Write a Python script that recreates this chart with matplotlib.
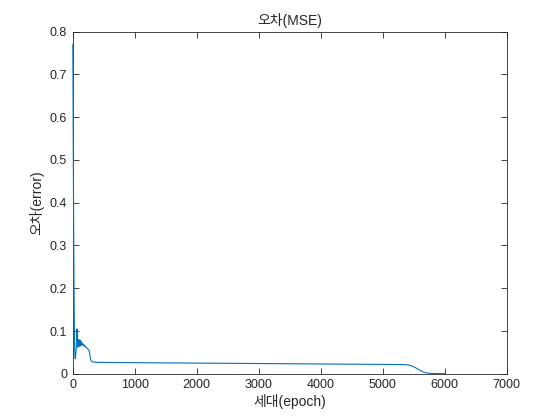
import matplotlib
matplotlib.use("Agg")
import matplotlib.pyplot as plt

# Data (epoch, MSE)
epochs = [0, 3, 6, 10, 15, 20, 25, 30, 35, 40, 45, 50, 55, 60, 65, 68, 72, 76, 80,
          85, 90, 95, 100, 105, 110, 115, 120, 125, 130, 135, 140, 145, 150, 160,
          170, 180, 190, 200, 210, 220, 230, 240, 250, 260, 270, 280, 290, 300,
          320, 350, 400, 600, 1000, 1500, 2000, 2500, 3000, 3500, 4000, 4500,
          5000, 5300, 5400, 5450, 5500, 5550, 5600, 5650, 5700, 5750, 5800,
          5850, 5900, 6000]
errors = [0.77, 0.70, 0.58, 0.45, 0.32, 0.20, 0.11, 0.06, 0.038, 0.035, 0.04,
          0.05, 0.06, 0.075, 0.09, 0.105, 0.07, 0.082, 0.062, 0.078, 0.066,
          0.08, 0.064, 0.076, 0.068, 0.079, 0.065, 0.074, 0.068, 0.075, 0.066,
          0.072, 0.068, 0.071, 0.066, 0.068, 0.064, 0.065, 0.062, 0.062, 0.06,
          0.058, 0.057, 0.055, 0.05, 0.04, 0.033, 0.03, 0.028, 0.027, 0.0268,
          0.0265, 0.026, 0.0255, 0.025, 0.0245, 0.024, 0.0235, 0.023, 0.0225,
          0.022, 0.0215, 0.021, 0.0195, 0.0165, 0.0125, 0.008, 0.0045, 0.0022,
          0.0012, 0.0008, 0.0006, 0.0005, 0.0004]

x_ticks = [0, 1000, 2000, 3000, 4000, 5000, 6000, 7000]
y_ticks = [0, 0.1, 0.2, 0.3, 0.4, 0.5, 0.6, 0.7, 0.8]
y_tick_labels = ["0", "0.1", "0.2", "0.3", "0.4", "0.5", "0.6", "0.7", "0.8"]
title = "오차(MSE)"
xlabel = "세대(epoch)"
ylabel = "오차(error)"

plt.rcParams['font.family'] = ['Liberation Sans', 'Noto Sans CJK KR', 'DejaVu Sans']
dark = '#262626'

fig = plt.figure(figsize=(5.6, 4.2), dpi=100)
fig.patch.set_facecolor('white')
ax = fig.add_axes([0.13, 0.11, 0.775, 0.815])
ax.plot(epochs, errors, color='#0072BD', linewidth=0.8, zorder=3, clip_on=False)

ax.set_xlim(0, 7000)
ax.set_ylim(0, 0.8)
ax.set_xticks(x_ticks)
ax.set_xticklabels([str(t) for t in x_ticks])
ax.set_yticks(y_ticks)
ax.set_yticklabels(y_tick_labels)
ax.tick_params(direction='in', length=4, width=0.6, top=True, right=True,
               labelsize=9, colors=dark, pad=4)
for s in ax.spines.values():
    s.set_linewidth(0.6)
    s.set_color(dark)
    s.set_zorder(2)

ax.set_title(title, fontsize=10, color=dark, pad=5)
ax.set_xlabel(xlabel, fontsize=10, color=dark, labelpad=2)
ax.set_ylabel(ylabel, fontsize=10, color=dark, labelpad=4)

fig.savefig('out.png', dpi=100, facecolor='white')
